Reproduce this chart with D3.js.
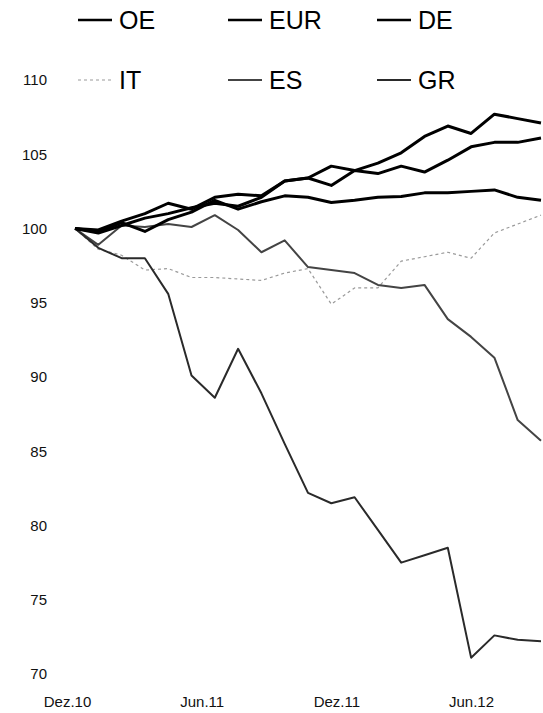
<!DOCTYPE html>
<html>
<head>
<meta charset="utf-8" />
<title>Index</title>
<script src="https://d3js.org/d3.v7.min.js"></script>
<style>
  body { margin: 0; background: #fff; }
  text { font-family: "Liberation Sans", Arial, sans-serif; }
</style>
</head>
<body>
<svg></svg>
<script>
// monthly points, Dez.10 .. Aug.12
const months = ["Dez.10","Jan.11","Feb.11","Mär.11","Apr.11","Mai.11","Jun.11","Jul.11","Aug.11","Sep.11","Okt.11","Nov.11",
                "Dez.11","Jan.12","Feb.12","Mär.12","Apr.12","Mai.12","Jun.12","Jul.12","Aug.12"];
const xLabels = ["Dez.10","Jun.11","Dez.11","Jun.12"];
const yTicks = [70,75,80,85,90,95,100,105,110];

const oe  = [100, 99.7, 100.2, 100.7, 101.0, 101.4, 101.7, 101.5, 102.1, 103.2, 103.4, 102.9, 103.9, 103.7, 104.2, 103.8, 104.6, 105.5, 105.8, 105.8, 106.1];
const eur = [100, 99.8, 100.4, 99.8, 100.6, 101.1, 101.9, 101.3, 101.8, 102.2, 102.1, 101.75, 101.9, 102.1, 102.15, 102.4, 102.4, 102.5, 102.6, 102.1, 101.9];
const de  = [100, 99.9, 100.5, 101.0, 101.7, 101.3, 102.1, 102.3, 102.2, 103.2, 103.4, 104.2, 103.9, 104.4, 105.1, 106.2, 106.9, 106.4, 107.7, 107.4, 107.1];
const it  = [100, 98.6, 98.2, 97.2, 97.3, 96.7, 96.7, 96.6, 96.5, 97.0, 97.3, 94.9, 96.0, 96.0, 97.8, 98.1, 98.4, 98.0, 99.7, 100.3, 100.9];
const es  = [100, 98.9, 100.2, 100.1, 100.3, 100.1, 100.9, 99.9, 98.4, 99.2, 97.4, 97.2, 97.0, 96.2, 96.0, 96.2, 93.9, 92.7, 91.3, 87.1, 85.7];
const gr  = [100, 98.7, 98.0, 98.0, 95.6, 90.1, 88.6, 91.9, 88.9, 85.5, 82.2, 81.5, 81.9, 79.7, 77.5, 78.0, 78.5, 71.1, 72.6, 72.3, 72.2];

const names = ["OE","EUR","DE","IT","ES","GR"];
const values = [oe, eur, de, it, es, gr];

const W = 543, H = 713;
const svg = d3.select("svg").attr("width", W).attr("height", H);

const xScale = d3.scaleLinear().domain([0, months.length - 1]).range([75, 541]);
const yScale = d3.scaleLinear().domain([70, 110]).range([674, 80]);
const xLab = d3.scalePoint().domain(xLabels).range([67, 471]);

const style = {
  OE:  {stroke: "#000", width: 3, dash: null},
  EUR: {stroke: "#000", width: 3, dash: null},
  DE:  {stroke: "#000", width: 3, dash: null},
  IT:  {stroke: "#9a9a9a", width: 1.2, dash: "3,3"},
  ES:  {stroke: "#444", width: 2, dash: null},
  GR:  {stroke: "#2a2a2a", width: 2, dash: null}
};

// y axis labels
const yAxis = svg.append("g")
  .attr("transform", "translate(47,0)")
  .call(d3.axisLeft(yScale).tickValues(yTicks).tickSize(0).tickPadding(0));
yAxis.select(".domain").remove();
yAxis.selectAll("text").attr("font-size", 15).attr("fill", "#111")
  .attr("font-family", "Liberation Sans, Arial, sans-serif");

// x axis labels
const xAxis = svg.append("g")
  .attr("transform", "translate(0,696)")
  .call(d3.axisBottom(xLab).tickSize(0).tickPadding(0));
xAxis.select(".domain").remove();
xAxis.selectAll("text").attr("font-size", 15).attr("fill", "#111")
  .attr("font-family", "Liberation Sans, Arial, sans-serif");

const line = d3.line()
  .x((d, i) => xScale(i))
  .y(d => yScale(d));

// draw grey ones first, black on top
const order = ["IT","ES","GR","EUR","OE","DE"];
order.forEach(n => {
  const s = style[n];
  svg.append("path")
    .datum(values[names.indexOf(n)])
    .attr("fill", "none")
    .attr("stroke", s.stroke)
    .attr("stroke-width", s.width)
    .attr("stroke-dasharray", s.dash)
    .attr("stroke-linejoin", "round")
    .attr("d", line);
});

// legend, 2 rows x 3 columns
const legCols = [78, 228, 377];
const legRows = [20, 80];
names.forEach((n, i) => {
  const s = style[n];
  const lx = legCols[i % 3], ly = legRows[Math.floor(i / 3)];
  svg.append("line")
    .attr("x1", lx).attr("x2", lx + 34)
    .attr("y1", ly).attr("y2", ly)
    .attr("stroke", s.stroke)
    .attr("stroke-width", s.width === 3 ? 2.5 : s.width)
    .attr("stroke-dasharray", s.dash);
  svg.append("text")
    .attr("x", lx + 41).attr("y", ly)
    .attr("dy", "0.36em")
    .attr("font-size", 25)
    .attr("fill", "#000")
    .text(n);
});
</script>
</body>
</html>
